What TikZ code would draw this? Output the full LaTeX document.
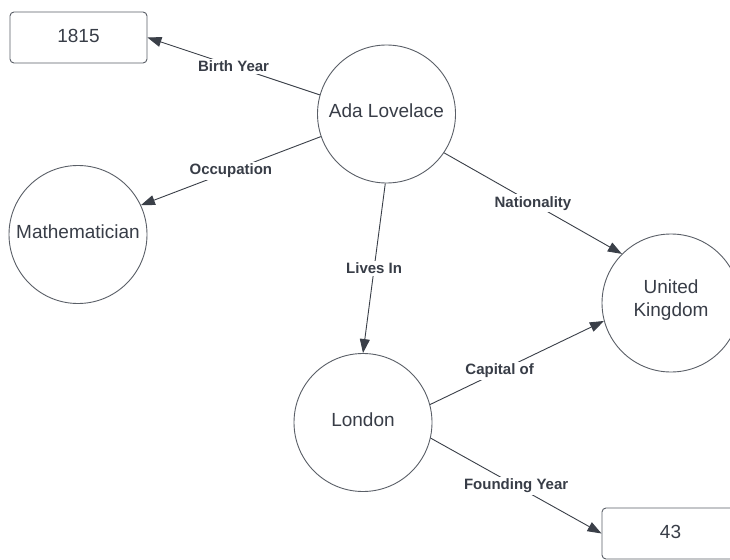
\documentclass[tikz,border=0pt]{standalone}
\usepackage{fontspec}
\setmainfont{Liberation Sans}
\usetikzlibrary{arrows.meta}
\definecolor{ink}{HTML}{383D47}
\definecolor{edgecol}{HTML}{3A3F48}
\definecolor{outline}{HTML}{5A5F67}
% raise a line of text slightly without changing its reported size
\newcommand{\lifted}[2][3pt]{\raisebox{#1}[\height][\depth]{#2}}
\begin{document}
\begin{tikzpicture}[x=1pt,y=-1pt,
  concept/.style={circle, draw=outline, line width=0.9pt, minimum size=138pt,
    inner sep=0pt, text=ink, align=center,
    font=\fontsize{19}{22.7}\selectfont},
  value/.style={rectangle, rounded corners=4pt, draw=outline, line width=0.9pt,
    minimum width=137pt, minimum height=51pt, inner sep=0pt, text=ink,
    font=\fontsize{19}{22.7}\selectfont},
  rel/.style={draw=edgecol, line width=0.9pt,
    -{Triangle[length=14pt,width=10pt]}},
  tag/.style={fill=white, text=ink, inner sep=2pt,
    font=\fontsize{15}{17}\selectfont\bfseries}]
  \useasboundingbox (0,0) rectangle (730,559);
  \clip (0,0) rectangle (730,559);
  \fill[white] (0,0) rectangle (730,559);

  % entities
  \node[concept] (ada)    at (386.5,114)   {\lifted{Ada Lovelace}};
  \node[concept] (math)   at (78,234.5)    {\lifted{Mathematician}};
  \node[concept] (uk)     at (671,303)     {\lifted{United}\\\lifted{Kingdom}};
  \node[concept] (london) at (363,422.5)   {\lifted{London}};
  \node[value]   (born)   at (78.5,37.5)   {\lifted[1.5pt]{1815}};
  \node[value]   (founded) at (670.5,533.5) {\lifted[1.5pt]{43}};

  % relations
  \draw[rel] (ada.164) -- node[tag, midway] {Birth Year} (born.east);
  \draw[rel] (ada.199) -- node[tag, midway] {Occupation} (math.25);
  \draw[rel] (ada.-34) -- node[tag, midway] {Nationality} (uk.135);
  \draw[rel] (ada.-91) -- node[tag, midway] {Lives In} (london.90);
  \draw[rel] (london.15) -- node[tag, pos=0.4] {Capital of} (uk.195);
  \draw[rel] (london.-13) -- node[tag, midway] {Founding Year} (founded.west);
\end{tikzpicture}
\end{document}
